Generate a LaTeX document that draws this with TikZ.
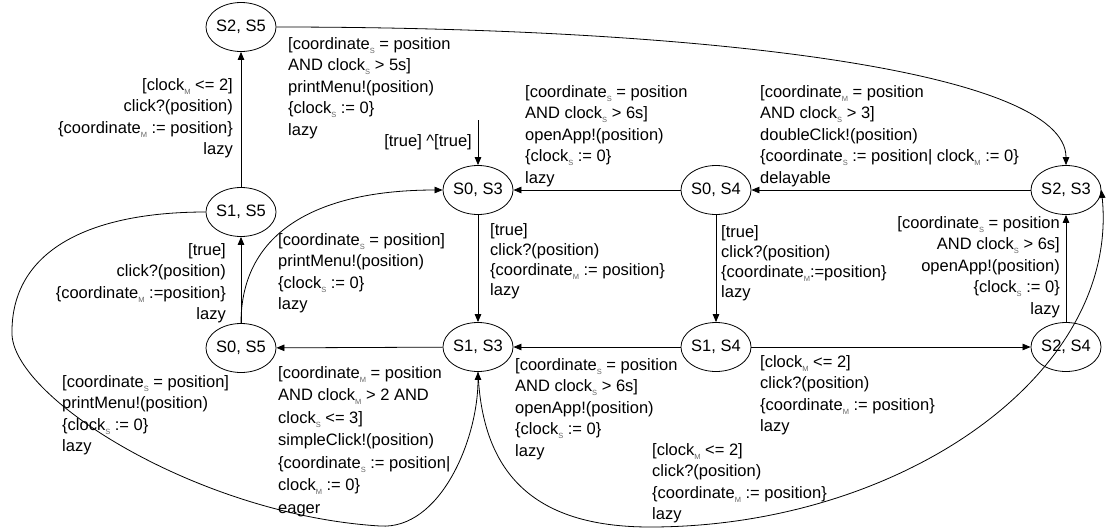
\documentclass[tikz,border=0pt]{standalone}
\usepackage{fontspec}
\setmainfont{Liberation Sans}
\usetikzlibrary{arrows.meta,shapes.geometric}
\definecolor{subgray}{gray}{0.4}
\newcommand{\ix}[1]{\raisebox{-4pt}{\fontsize{7.5}{7.5}\selectfont\textcolor{subgray}{#1}}}
\begin{document}
\begin{tikzpicture}[x=1pt,y=-1pt,
  st/.style={draw, ellipse, minimum width=66pt, minimum height=49pt, inner sep=0pt, line width=0.8pt, font=\fontsize{16.5}{20}\selectfont},
  edge/.style={line width=0.8pt, -{Triangle[length=8pt,width=6.5pt]}},
  lbl/.style={inner sep=0pt, align=left, font=\fontsize{16.5}{21.5}\selectfont},
  lblr/.style={inner sep=0pt, align=right, font=\fontsize{16.5}{21.5}\selectfont}]
\useasboundingbox (0,0) rectangle (1111,528);

% states
\node[st] (S25) at (241,27)  {S2, S5};
\node[st] (S15) at (241,212) {S1, S5};
\node[st] (S05) at (241,348) {S0, S5};
\node[st] (S03) at (478,190) {S0, S3};
\node[st] (S13) at (478,347) {S1, S3};
\node[st] (S04) at (716,190) {S0, S4};
\node[st] (S14) at (716,347) {S1, S4};
\node[st] (S23) at (1066,190) {S2, S3};
\node[st] (S24) at (1066,347) {S2, S4};

% initial
\coordinate (init) at (478,120);
\draw[edge] (init) -- (S03);
\node[lbl, anchor=east] (l1) at (472,142) {[true] \textasciicircum[true]};

% straight edges
\draw[edge] (S04) -- (S03);
\draw[edge] (S23) -- (S04);
\draw[edge] (S15) -- (S25);
\draw[edge] (S05) -- (S15);
\draw[edge] (S03) -- (S13);
\draw[edge] (S04) -- (S14);
\draw[edge] (S13) -- (S05);
\draw[edge] (S14) -- (S13);
\draw[edge] (S14) -- (S24);
\draw[edge] (S24) -- (S23);

% curved edges
\draw[edge] (S25.east) .. controls (700,27) and (1066,70) .. (S23.north);
\draw[edge] (S05.north) .. controls (241,230) and (320,190) .. (S03.west);
\coordinate (la) at (12,335);
\coordinate (lb) at (380,526);
\draw[edge] (S15.west) .. controls (90,212) and (10,250) .. (la)
  .. controls (16,400) and (200,515) .. (lb)
  .. controls (440,530) and (478,440) .. (S13.south);
\coordinate (ra) at (650,527);
\draw[edge] (S13.south) .. controls (482,470) and (530,527) .. (ra)
  .. controls (900,527) and (1120,375) .. (S23.east);

% labels
\node[lbl, anchor=north west] (l2) at (525,85) {[coordinate\ix{S} = position\\AND clock\ix{S} > 6s]\\openApp!(position)\\\{clock\ix{S} := 0\}\\lazy};
\node[lbl, anchor=north west] (l3) at (760,85) {[coordinate\ix{M} = position\\AND clock\ix{S} > 3]\\doubleClick!(position)\\\{coordinate\ix{S} := position| clock\ix{M} := 0\}\\delayable};
\node[lbl, anchor=north west] (l4) at (288,37) {[coordinate\ix{S} = position\\AND clock\ix{S} > 5s]\\printMenu!(position)\\\{clock\ix{S} := 0\}\\lazy};
\node[lblr, anchor=north east] (l5) at (233,78) {[clock\ix{M} <= 2]\\click?(position)\\\{coordinate\ix{M} := position\}\\lazy};
\node[lblr, anchor=north east] (l6) at (226,243) {[true]\\click?(position)\\\{coordinate\ix{M} :=position\}\\lazy};
\node[lbl, anchor=north west] (l7) at (278,233) {[coordinate\ix{S} = position]\\printMenu!(position)\\\{clock\ix{S} := 0\}\\lazy};
\node[lbl, anchor=north west, font=\fontsize{16.5}{20}\selectfont] (l8) at (490,223) {[true]\\click?(position)\\\{coordinate\ix{M} := position\}\\lazy};
\node[lbl, anchor=north west, font=\fontsize{16.5}{20}\selectfont] (l9) at (721,225) {[true]\\click?(position)\\\{coordinate\ix{M}:=position\}\\lazy};
\node[lbl, anchor=north west, font=\fontsize{16.5}{22.5}\selectfont] (l10) at (278,366) {[coordinate\ix{M} = position\\AND clock\ix{M} > 2 AND\\clock\ix{S} <= 3]\\simpleClick!(position)\\\{coordinate\ix{S} := position|\\clock\ix{M} := 0\}\\eager};
\node[lbl, anchor=north west] (l11) at (515,358) {[coordinate\ix{S} = position\\AND clock\ix{S} > 6s]\\openApp!(position)\\\{clock\ix{S} := 0\}\\lazy};
\node[lbl, anchor=north west] (l12) at (760,355) {[clock\ix{M} <= 2]\\click?(position)\\\{coordinate\ix{M} := position\}\\lazy};
\node[lblr, anchor=north east] (l13) at (1060,216) {[coordinate\ix{S} = position\\AND clock\ix{S} > 6s]\\openApp!(position)\\\{clock\ix{S} := 0\}\\lazy};
\node[lbl, anchor=north west] (l14) at (62,375) {[coordinate\ix{S} = position]\\printMenu!(position)\\\{clock\ix{S} := 0\}\\lazy};
\node[lbl, anchor=north west] (l15) at (652,443) {[clock\ix{M} <= 2]\\click?(position)\\\{coordinate\ix{M} := position\}\\lazy};
\end{tikzpicture}
\end{document}
